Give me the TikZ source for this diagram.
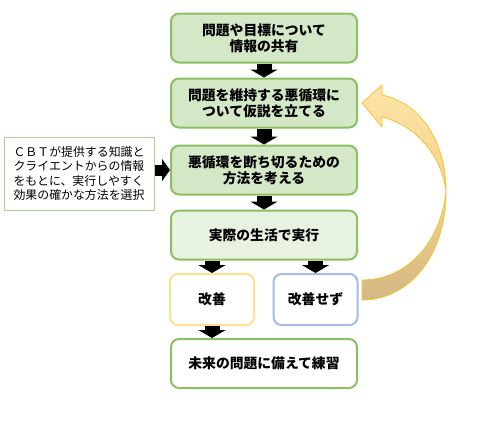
\documentclass[tikz,border=0pt]{standalone}
\usepackage{fontspec}
\setmainfont{Noto Sans CJK JP}
\usetikzlibrary{arrows.meta}
\definecolor{stepgreen}{HTML}{8CBF61}
\definecolor{stepfill}{HTML}{D4E7C7}
\definecolor{stepfilltwo}{HTML}{E8F2E0}
\definecolor{goodyellow}{HTML}{FFE18F}
\definecolor{badblue}{HTML}{A7BCE4}
\definecolor{notegreen}{HTML}{A9D38C}
\definecolor{loopedge}{HTML}{F3C532}
\definecolor{looptop}{HTML}{FCE4A8}
\definecolor{loopmid}{HTML}{F4D38D}
\definecolor{loopbot}{HTML}{D3B884}
\newcommand{\downarrowto}[2]{\draw[fatarrow] (#1) -- (#2);}

\begin{document}
\begin{tikzpicture}[x=1pt,y=-1pt,
  stepbox/.style={draw=stepgreen,line width=2pt,rounded corners=8pt,fill=stepfill,
    minimum width=186pt,minimum height=49pt,align=center,
    font=\fontsize{13.8}{16}\selectfont\bfseries},
  fatarrow/.style={line width=15pt,-{Triangle[width=27pt,length=8pt]}},
  sidearrow/.style={line width=11pt,-{Triangle[width=22pt,length=8pt]}}]
\useasboundingbox (0,0) rectangle (497,426);
\node[stepbox] (share) at (264,38) {問題や目標について\\情報の共有};
\node[stepbox] (hypo) at (264,103) {問題を維持する悪循環に\\ついて仮説を立てる};
\node[stepbox] (plan) at (264,170) {悪循環を断ち切るための\\方法を考える};
\node[stepbox,fill=stepfilltwo] (act) at (264,235) {実際の生活で実行};
\node[stepbox,fill=white,draw=goodyellow,minimum width=84pt,minimum height=51pt] (good) at (212,299.5) {改善};
\node[stepbox,fill=white,draw=badblue,minimum width=84pt,minimum height=51pt] (bad) at (315.5,299.5) {改善せず};
\node[stepbox,fill=white] (train) at (264,363.5) {未来の問題に備えて練習};
\node[draw=notegreen,line width=1pt,minimum width=150pt,minimum height=73pt,align=left,
  font=\fontsize{11.9}{14.2}\selectfont] (note) at (79,173.5)
  {ＣＢＴが提供する知識と\\クライエントからの情報\\をもとに、実行しやすく\\効果の確かな方法を選択};
\downarrowto{share.south}{hypo.north}
\downarrowto{hypo.south}{plan.north}
\downarrowto{plan.south}{act.north}
\downarrowto{good.north |- act.south}{good.north}
\downarrowto{bad.north |- act.south}{bad.north}
\downarrowto{good.south}{good.south |- train.north}
\draw[sidearrow] (note.east |- plan) -- (plan.west);
% curved return arrow: not improved -> back to the hypothesis
\path[draw=loopedge,line width=.8pt,top color=loopmid,bottom color=loopbot]
  (362,300) -- (362,280) .. controls (405,280) and (440,245) .. (446,192)
  .. controls (446,255) and (410,300) .. cycle;
\path[draw=loopedge,line width=.8pt,top color=looptop,bottom color=loopmid]
  (362,103) -- (382,85) -- (382,95) .. controls (420,103) and (446,140) .. (446,192)
  .. controls (442,155) and (415,125) .. (382,117) -- (382,127) -- cycle;
\end{tikzpicture}
\end{document}
